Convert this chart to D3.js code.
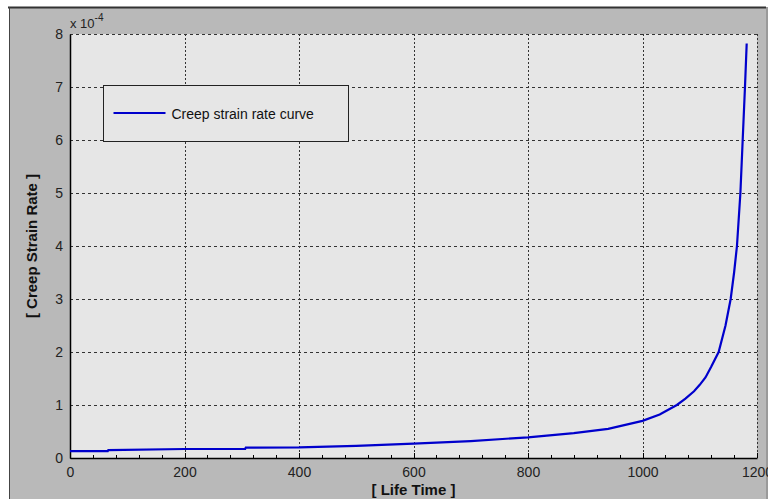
<!DOCTYPE html>
<html>
<head>
<meta charset="utf-8">
<script src="https://cdn.jsdelivr.net/npm/d3@7"></script>
<style>
	body { margin: 0; background: #fff; }
	svg { display: block; font-family: "Liberation Sans", Arial, sans-serif; }
</style>
</head>
<body>
<div class="container"></div>
<script>
// life time values and the creep strain rate (units of 1e-4)
var lifeTime = [0, 66, 67, 200, 306, 307, 400, 500, 600, 700, 800, 880, 940, 1000, 1030, 1060, 1075, 1090, 1100, 1110, 1120, 1133, 1145, 1154, 1160, 1165, 1171, 1175, 1179, 1182];
var strainRate = [0.13, 0.13, 0.15, 0.17, 0.17, 0.195, 0.2, 0.23, 0.27, 0.32, 0.39, 0.47, 0.55, 0.70, 0.82, 1.0, 1.12, 1.26, 1.38, 1.52, 1.72, 2.0, 2.5, 3.0, 3.5, 4.0, 5.0, 6.0, 7.0, 7.82];

var xTicks = [0, 200, 400, 600, 800, 1000, 1200];
var xMinorTicks = d3.range(0, 1201, 40);
var yTicks = [0, 1, 2, 3, 4, 5, 6, 7, 8];
var legendLabel = "Creep strain rate curve";

var W = 768, H = 499;
var margin = {top: 34, right: 10, bottom: 41, left: 70},
	width = 757 - margin.left,
	height = 458 - margin.top;

var svg = d3.select(".container").append("svg")
	.attr("width", W)
	.attr("height", H);

// figure background
svg.append("rect")
	.attr("x", 9).attr("y", 7)
	.attr("width", 757).attr("height", H - 7)
	.attr("fill", "#b9b9b9");
svg.append("rect")
	.attr("x", 766).attr("y", 7)
	.attr("width", 2).attr("height", H - 7)
	.attr("fill", "#9a9a9a");
svg.append("line")
	.attr("x1", 8).attr("x2", 766).attr("y1", 7.5).attr("y2", 7.5)
	.attr("stroke", "#333").attr("stroke-width", 2);
svg.append("line")
	.attr("x1", 9.5).attr("x2", 9.5).attr("y1", 7).attr("y2", H)
	.attr("stroke", "#444").attr("stroke-width", 1);

var x = d3.scaleLinear().domain([0, 1200]).range([0, width]);
var y = d3.scaleLinear().domain([0, 8]).range([height, 0]);

var g = svg.append("g")
	.attr("transform", "translate(" + margin.left + "," + margin.top + ")");

g.append("rect")
	.attr("width", width).attr("height", height)
	.attr("fill", "#e6e6e6");

// grid lines
g.selectAll(".hgrid")
	.data(yTicks)
	.enter().append("line")
	.attr("x1", 0).attr("x2", width)
	.attr("y1", function(d) { return Math.round(y(d)) + 0.5; })
	.attr("y2", function(d) { return Math.round(y(d)) + 0.5; })
	.attr("stroke", "#333")
	.attr("stroke-dasharray", "3,3");

g.selectAll(".vgrid")
	.data(xTicks)
	.enter().append("line")
	.attr("y1", 0).attr("y2", height)
	.attr("x1", function(d) { return Math.round(x(d)) + 0.5; })
	.attr("x2", function(d) { return Math.round(x(d)) + 0.5; })
	.attr("stroke", "#333")
	.attr("stroke-dasharray", "2,2");

// minor ticks on the x axis (inside)
g.selectAll(".minor")
	.data(xMinorTicks)
	.enter().append("line")
	.attr("x1", function(d) { return Math.round(x(d)) + 0.5; })
	.attr("x2", function(d) { return Math.round(x(d)) + 0.5; })
	.attr("y1", height).attr("y2", function(d) { return d % 200 === 0 ? height - 5 : height - 3; })
	.attr("stroke", "#000");

// axes
var x_axis = d3.axisBottom(x).tickValues(xTicks).tickSize(0).tickPadding(9).tickFormat(d3.format("d"));
var y_axis = d3.axisLeft(y).tickValues(yTicks).tickSize(0).tickPadding(7).tickFormat(d3.format("d"));

var gx = g.append("g")
	.attr("transform", "translate(0," + height + ")")
	.call(x_axis);
var gy = g.append("g").call(y_axis);

[gx, gy].forEach(function(a) {
	a.select(".domain").attr("stroke", "#000").attr("stroke-width", 1.5);
	a.selectAll("text")
		.attr("fill", "#222")
		.style("font-family", "'Liberation Sans', Arial, sans-serif")
		.style("font-size", "14px");
});

// exponent label
g.append("text")
	.attr("x", 0).attr("y", -6)
	.attr("font-size", 13).attr("fill", "#222")
	.text("x 10")
	.append("tspan")
		.attr("dy", -7).attr("font-size", 10)
		.text("-4");

// the curve
var line = d3.line()
	.x(function(d) { return x(d[0]); })
	.y(function(d) { return y(d[1]); });

g.append("path")
	.attr("d", line(d3.zip(lifeTime, strainRate)))
	.attr("fill", "none")
	.attr("stroke", "#0000cc")
	.attr("stroke-width", 2.2);

// legend
var legend = g.append("g").attr("transform", "translate(33.5,51.5)");
legend.append("rect")
	.attr("width", 245).attr("height", 56)
	.attr("fill", "#e6e6e6")
	.attr("stroke", "#222");
legend.append("line")
	.attr("x1", 10).attr("x2", 62).attr("y1", 27.5).attr("y2", 27.5)
	.attr("stroke", "#0000cc").attr("stroke-width", 2.2);
legend.append("text")
	.attr("x", 68).attr("y", 33)
	.attr("font-size", 14).attr("fill", "#111")
	.text(legendLabel);

// axis titles
svg.append("text")
	.attr("x", margin.left + width / 2).attr("y", 495)
	.attr("text-anchor", "middle")
	.attr("font-weight", "bold").attr("font-size", 15)
	.attr("fill", "#111")
	.text("[ Life Time ]");

svg.append("text")
	.attr("transform", "translate(37," + (margin.top + height / 2) + ") rotate(-90)")
	.attr("text-anchor", "middle")
	.attr("font-weight", "bold").attr("font-size", 15)
	.attr("fill", "#111")
	.text("[ Creep Strain Rate ]");
</script>
</body>
</html>
